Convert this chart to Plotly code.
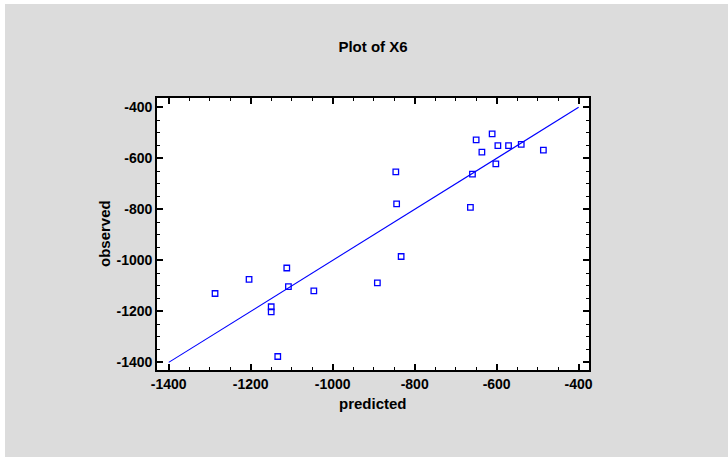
import plotly.graph_objects as go

predicted = [-1287, -1204, -1112, -1108, -1150, -1150, -1134, -1046, -891, -833,
             -846, -844, -664, -659, -650, -636, -611, -602, -597, -571, -540, -486]
observed = [-1130, -1075, -1030, -1103, -1182, -1202, -1377, -1120, -1088, -985,
            -653, -779, -792, -662, -528, -576, -504, -622, -550, -550, -545, -568]
fit_x = [-1400, -400]
fit_y = [-1400, -400]

tick_vals = [-1400, -1200, -1000, -800, -600, -400]
tick_text = ["-1400", "-1200", "-1000", "-800", "-600", "-400"]

FONT = "Arial, Liberation Sans, Helvetica, sans-serif"
BLUE = "#0000FF"

fig = go.Figure()
fig.add_trace(go.Scatter(x=fit_x, y=fit_y, mode="lines",
                         line=dict(color=BLUE, width=1.1), hoverinfo="skip",
                         showlegend=False))
fig.add_trace(go.Scatter(x=predicted, y=observed, mode="markers",
                         marker=dict(symbol="square-open", size=5.5, color=BLUE,
                                     line=dict(width=1.3, color=BLUE)),
                         showlegend=False))

L, R, T, B = 157, 589, 98, 370
W, H = 728, 457
pw, ph = R - L, B - T

axis_common = dict(
    showline=True, linecolor="black", linewidth=1.6, mirror="ticks",
    ticks="inside", ticklen=6, tickwidth=1.5, tickcolor="black",
    showgrid=False, zeroline=False,
    tickfont=dict(family=FONT, size=14, color="#000000", weight="bold"),
    minor=dict(ticks="inside", ticklen=3, tickwidth=1, tickcolor="black", dtick=50, showgrid=False),
    tickvals=tick_vals, ticktext=tick_text,
)

fig.update_xaxes(range=[-1428.6, -374.7], **axis_common)
fig.update_yaxes(range=[-1430, -363.5], **axis_common)

fig.update_layout(
    width=W, height=H,
    margin=dict(l=L, r=W - R, t=T, b=H - B, pad=0),
    paper_bgcolor="#DCDCDC", plot_bgcolor="white",
    title=dict(text="Plot of X6", x=(373 - L) / pw, xref="paper", xanchor="center",
               y=1 - 47 / H, yref="container", yanchor="middle",
               font=dict(family=FONT, size=15, color="#000000", weight="bold")),
    shapes=[
        dict(type="rect", xref="paper", yref="paper",
             x0=(0 - L) / pw, x1=(5 - L) / pw, y0=(B - H) / ph, y1=(B - 0) / ph,
             fillcolor="white", line=dict(width=0), layer="below"),
        dict(type="rect", xref="paper", yref="paper",
             x0=(0 - L) / pw, x1=(W - L) / pw, y0=(B - 4) / ph, y1=(B - 0) / ph,
             fillcolor="white", line=dict(width=0), layer="below"),
    ],
    annotations=[
        dict(text="predicted", xref="paper", yref="paper",
             x=(373 - L) / pw, y=(B - 403) / ph, xanchor="center", yanchor="middle",
             showarrow=False,
             font=dict(family=FONT, size=15, color="#000000", weight="bold")),
        dict(text="observed", xref="paper", yref="paper",
             x=(104 - L) / pw, y=(B - 234) / ph, xanchor="center", yanchor="middle",
             textangle=-90, showarrow=False,
             font=dict(family=FONT, size=15, color="#000000", weight="bold")),
    ],
)

fig.write_html("out.html")
